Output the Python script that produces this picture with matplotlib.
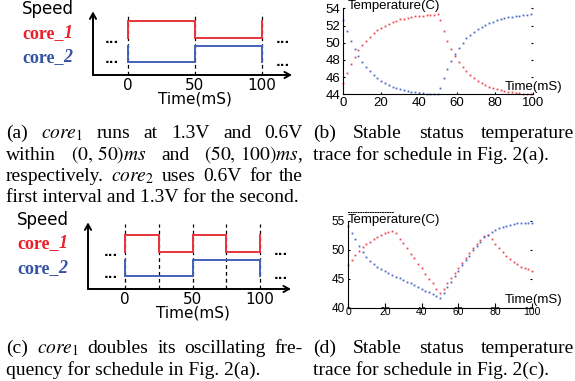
import numpy as np
import matplotlib
matplotlib.use('Agg')
import matplotlib.pyplot as plt

plt.rcParams['font.family'] = ['Liberation Sans', 'DejaVu Sans']
plt.rcParams['mathtext.fontset'] = 'stix'

# schedules for (a) and (c): 1 = 1.3V (fast), 0 = 0.6V (slow)
bounds_a = [0, 50, 100]
core1_a = [1, 0]
core2_a = [0, 1]
bounds_c = [0, 25, 50, 75, 100]
core1_c = [1, 0, 1, 0]
core2_c = [0, 0, 1, 1]
sched_ticks = [0, 50, 100]

# (b) temperature trace, first and second half
t_b1 = np.arange(0, 51, 2)
t_b2 = np.arange(51, 100, 2)
core1_b1 = [45.35, 46.5, 47.5, 48.35, 49.1, 49.7, 50.25, 50.7, 51.1, 51.45, 51.75, 52.0, 52.2,
            52.4, 52.55, 52.7, 52.8, 52.9, 52.98, 53.05, 53.1, 53.15, 53.2, 53.24, 53.27, 53.3]
core2_b1 = [52.6, 51.35, 50.25, 49.3, 48.5, 47.8, 47.2, 46.7, 46.25, 45.9, 45.6, 45.35, 45.1,
            44.9, 44.75, 44.6, 44.48, 44.38, 44.3, 44.23, 44.17, 44.12, 44.08, 44.05, 44.02, 44.0]
core1_b2 = [52.6, 51.35, 50.25, 49.3, 48.5, 47.8, 47.2, 46.7, 46.25, 45.9, 45.6, 45.35, 45.1,
            44.9, 44.75, 44.6, 44.48, 44.38, 44.3, 44.23, 44.17, 44.12, 44.08, 44.05, 44.02]
core2_b2 = [44.7, 45.95, 47.0, 47.9, 48.7, 49.4, 50.0, 50.5, 50.9, 51.3, 51.6, 51.85, 52.1,
            52.3, 52.45, 52.6, 52.75, 52.85, 52.95, 53.02, 53.1, 53.15, 53.2, 53.25, 53.3]

# (d) temperature trace
t_d = np.arange(0, 101, 2)
core1_d = [47.4, 48.3, 49.1, 49.8, 50.4, 50.9, 51.4, 51.8, 52.2, 52.5, 52.8, 53.0, 53.2,
           52.8, 51.9, 51.1, 50.2, 49.3, 48.5, 47.6, 46.8, 45.9, 45.0, 44.2, 43.3, 42.5,
           43.2, 44.2, 45.1, 46.0, 46.9, 47.8, 48.6, 49.4, 50.2, 51.0, 51.7, 52.3,
           52.5, 51.8, 51.0, 50.3, 49.6, 49.0, 48.4, 47.9, 47.5, 47.1, 46.8, 46.6, 46.4]
core2_d = [54.1, 52.9, 51.8, 50.6, 49.6, 48.8, 48.1, 47.5, 47.0, 46.6, 46.3, 46.0, 45.7,
           45.4, 45.1, 44.8, 44.5, 44.2, 43.9, 43.6, 43.3, 43.0, 42.7, 42.4, 42.1, 41.8,
           42.6, 43.6, 44.5, 45.5, 46.4, 47.3, 48.2, 49.0, 49.9, 50.7, 51.4, 52.1, 52.6,
           53.0, 53.4, 53.7, 53.9, 54.1, 54.3, 54.4, 54.5, 54.55, 54.6, 54.6, 54.65]

RED = '#e8343c'
BLUE = '#4262b8'
DOT_RED = '#ec4652'
DOT_BLUE = '#4a68c4'
W, H = 575, 381

fig = plt.figure(figsize=(W / 100, H / 100), dpi=100)
ax0 = fig.add_axes([0, 0, 1, 1])
ax0.set_xlim(0, W)
ax0.set_ylim(H, 0)
ax0.axis('off')
rend = fig.canvas.get_renderer()


def box(l, t, r, b):
    return [l / W, 1 - b / H, (r - l) / W, (b - t) / H]


def step_xy(bounds, levels):
    xs, ys = [], []
    prev = levels[-1]
    for i, lv in enumerate(levels):
        xs += [bounds[i], bounds[i], bounds[i + 1]]
        ys += [prev, lv, lv]
        prev = lv
    xs.append(bounds[-1])
    ys.append(levels[0])
    return np.array(xs), np.array(ys)


def schedule(rect, t0px, t100px, bounds, c1, c2, dots):
    l, t, r, b = rect
    ax = fig.add_axes(box(*rect))
    ax.patch.set_visible(False)
    ax.axis('off')
    k = (t100px - t0px) / 100
    ax.set_xlim((l - t0px) / k, (r - t0px) / k)
    ax.set_ylim(0, b - t)
    for bd in bounds:
        ax.axvline(bd, ymax=0.98, color='k', lw=0.9, ls=(0, (3, 2.5)))
    x, y = step_xy(bounds, c1)
    ax.plot(x, 37.5 + 16.5 * y, color=RED, lw=1.4, solid_joinstyle='miter')
    x, y = step_xy(bounds, c2)
    ax.plot(x, 13 + 16.5 * y, color=BLUE, lw=1.4, solid_joinstyle='miter')
    ap = dict(arrowstyle='->,head_length=0.4,head_width=0.22', lw=1.4, color='k',
              shrinkA=0, shrinkB=0)
    ax.annotate('', xy=(0, 1.01), xytext=(0, 0), xycoords='axes fraction', arrowprops=ap)
    ax.annotate('', xy=(1, 0), xytext=(0, 0), xycoords='axes fraction', arrowprops=ap)
    for tk in sched_ticks:
        ax.text(tk, -10, str(tk), ha='center', va='center', fontsize=11,
                family='DejaVu Sans', clip_on=False)
    ax.text(50, -24, 'Time(mS)', ha='center', va='center', fontsize=11,
            family='DejaVu Sans', clip_on=False)
    for dx, dy in dots:
        ax.text(dx, dy, '...', ha='center', va='baseline', fontsize=9,
                fontweight='bold', family='DejaVu Sans', clip_on=False)
    return ax


def core_label(x, y, num, color):
    t1 = ax0.text(x, y, 'core_', color=color, fontsize=13, fontweight='bold',
                  family='Liberation Serif', va='center')
    w = t1.get_window_extent(rend).width
    ax0.text(x + w, y, num, color=color, fontsize=13, fontweight='bold', style='italic',
             family='Liberation Serif', va='center')


# (a) and (c) schematics
schedule((93, 12, 292, 75), 128, 262, bounds_a, core1_a, core2_a,
         [(-12, 32), (-12, 12), (115.5, 32), (115.5, 9)])
schedule((88, 223, 291, 289), 125, 260, bounds_c, core1_c, core2_c,
         [(-10.5, 33), (-10.5, 11), (115.5, 34), (115.5, 10)])
for (sx, sy) in [(22, 9.5), (17, 220)]:
    ax0.text(sx, sy, 'Speed', fontsize=12, family='DejaVu Sans', va='center')
    core_label(sx, sy + 24, '1', '#e8202a')
    core_label(sx, sy + 48.5, '2', '#3452a4')

# (b)
axb = fig.add_axes(box(343.3, 8.3, 532.7, 94.3))
mk = dict(marker='s', ls='none', ms=1.3, mew=0, clip_on=False)
axb.plot(t_b1, core1_b1, color=DOT_RED, **mk)
axb.plot(t_b1, core2_b1, color=DOT_BLUE, **mk)
axb.plot(t_b2, core1_b2, color=DOT_RED, **mk)
axb.plot(t_b2, core2_b2, color=DOT_BLUE, **mk)
axb.set_xlim(0, 100)
axb.set_ylim(44, 54)
axb.set_xticks(range(0, 101, 20))
axb.set_yticks(range(44, 55, 2))
axb.tick_params(axis='x', labelsize=9.5, pad=2)
axb.tick_params(axis='y', labelsize=9.5, pad=2)

# (d)
axd = fig.add_axes(box(348, 220.5, 532, 308))
axd.plot(t_d, core1_d, color=DOT_RED, **mk)
axd.plot(t_d, core2_d, color=DOT_BLUE, **mk)
axd.set_xlim(0, 100)
axd.set_ylim(40, 55)
axd.set_xticks(range(0, 101, 20))
axd.set_yticks(range(40, 56, 5))
axd.tick_params(axis='x', labelsize=7.5, pad=-0.5, length=3.5)
axd.tick_params(axis='y', labelsize=8.5, pad=2)
for lab in axd.get_xticklabels():
    lab.set_bbox(dict(boxstyle='square,pad=0.3', fc='white', ec='none'))
axd.xaxis.set_zorder(3)
axd.spines['top'].set_bounds(0, 25)
axd.spines['top'].set_position(('outward', 6))
axd.spines['top'].set_linestyle((0, (1, 1.5)))
axd.spines['top'].set_linewidth(0.7)

for ax in (axb, axd):
    ax.patch.set_visible(False)
    ax.spines['right'].set_visible(False)
    ax.tick_params(direction='in', width=0.8, right=True)
    ax.tick_params(axis='y', length=1.5)
    for s in ('left', 'bottom'):
        ax.spines[s].set_linewidth(0.8)
axb.spines['top'].set_visible(False)
axb.tick_params(axis='x', length=1.5)

for ty in (6, 220):
    ax0.text(348, ty, 'Temperature(C)', fontsize=9.5, va='center')
for ty in (86.7, 300):
    ax0.text(534, ty, 'Time(mS)', fontsize=9.5, va='center', ha='center')

# captions
cap_kw = dict(fontsize=14, family='Liberation Serif', va='baseline', ha='left')


def caption(lines, last, x0, x1, y0, step=21.5):
    for i, words in enumerate(lines):
        texts = [ax0.text(x0, y0 + i * step, w, **cap_kw) for w in words]
        ws = [tx.get_window_extent(rend).width for tx in texts]
        gap = (x1 - x0 - sum(ws)) / (len(words) - 1)
        x = x0
        for tx, w in zip(texts, ws):
            tx.set_x(x)
            x += w + gap
    ax0.text(x0, y0 + len(lines) * step, last, **cap_kw)


caption([['(a)', '$core_1$', 'runs', 'at', '1.3V', 'and', '0.6V'],
         ['within', r'$(0,\,50)ms$', 'and', r'$(50,\,100)ms$,'],
         ['respectively.', '$core_2$', 'uses', '0.6V', 'for', 'the']],
        'first interval and 1.3V for the second.', 6, 303, 138)
caption([['(b)', 'Stable', 'status', 'temperature']],
        'trace for schedule in Fig. 2(a).', 313, 574, 138)
caption([['(c)', '$core_1$', 'doubles', 'its', 'oscillating', 'fre-']],
        'quency for schedule in Fig. 2(a).', 6, 303, 353)
caption([['(d)', 'Stable', 'status', 'temperature']],
        'trace for schedule in Fig. 2(c).', 313, 574, 353)

fig.savefig('out.png', dpi=100)
